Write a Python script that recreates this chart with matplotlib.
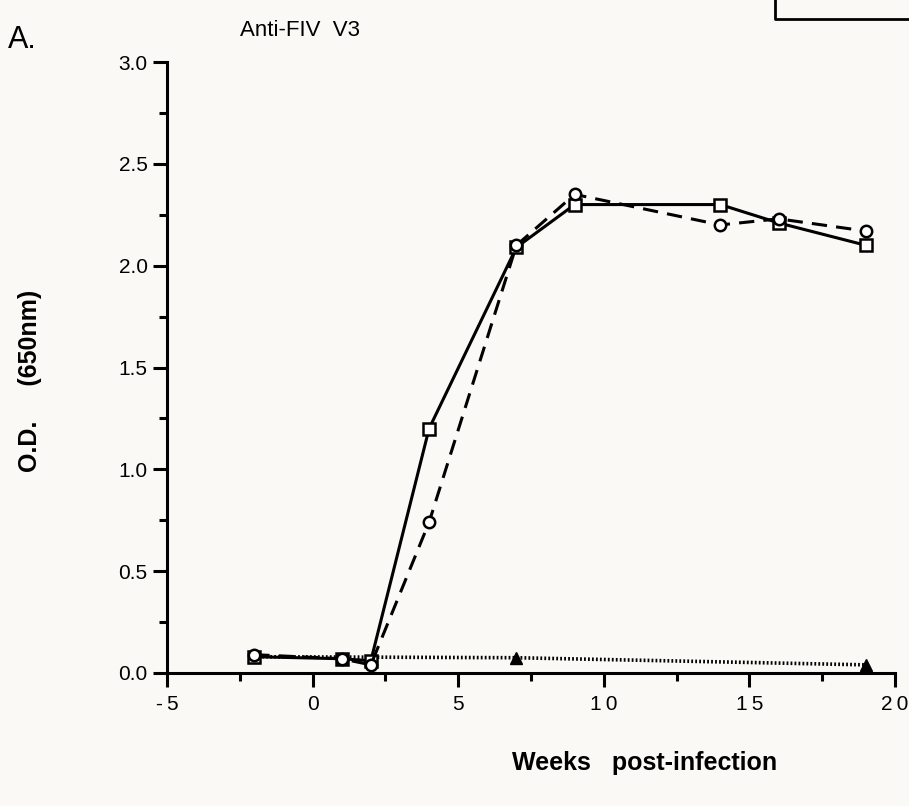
import matplotlib
matplotlib.use("Agg")
import matplotlib.pyplot as plt
from matplotlib.ticker import MultipleLocator, FixedLocator
from matplotlib.lines import Line2D

# Data
weeks_sq = [-2, 1, 2, 4, 7, 9, 14, 16, 19]
od_sq = [0.08, 0.07, 0.06, 1.20, 2.09, 2.30, 2.30, 2.21, 2.10]

weeks_ci = [-2, 1, 2, 4, 7, 9, 14, 16, 19]
od_ci = [0.09, 0.07, 0.04, 0.74, 2.10, 2.35, 2.20, 2.23, 2.17]

weeks_tr = [-2, 7, 19]
od_tr = [0.08, 0.075, 0.04]

x_ticks = [-5, 0, 5, 10, 15, 20]
x_ticklabels = ["-\u20095", "0", "5", "1\u20090", "1\u20095", "2\u20090"]
y_ticks = [0.0, 0.5, 1.0, 1.5, 2.0, 2.5, 3.0]
y_ticklabels = ["0.0", "0.5", "1.0", "1.5", "2.0", "2.5", "3.0"]

plt.rcParams['font.family'] = ['Liberation Sans', 'DejaVu Sans']

W, H = 909, 806
fig = plt.figure(figsize=(W / 100, H / 100), dpi=100)
fig.patch.set_facecolor('#fbf9f5')

left, right, top, bottom = 167, 895, 62, 673
ax = fig.add_axes([left / W, 1 - bottom / H, (right - left) / W, (bottom - top) / H])
ax.set_facecolor('#fbf9f5')

ax.plot(weeks_tr, od_tr, color='black', lw=2.6, linestyle=(0, (0.5, 0.6)),
        marker='^', markersize=8, markerfacecolor='black', markeredgecolor='black', zorder=2)
ax.plot(weeks_sq, od_sq, color='black', lw=2.2, linestyle='-',
        marker='s', markersize=8.5, markerfacecolor='white', markeredgecolor='black',
        markeredgewidth=1.8, zorder=3)
ax.plot(weeks_ci, od_ci, color='black', lw=2.2, linestyle=(0, (5, 3)),
        marker='o', markersize=8.2, markerfacecolor='white', markeredgecolor='black',
        markeredgewidth=1.8, zorder=4)

ax.set_xlim(-5, 20)
ax.set_ylim(0, 3.0)
for s in ['top', 'right']:
    ax.spines[s].set_visible(False)
for s in ['left', 'bottom']:
    ax.spines[s].set_linewidth(2.2)

ax.xaxis.set_major_locator(FixedLocator(x_ticks))
ax.set_xticklabels(x_ticklabels)
ax.xaxis.set_minor_locator(MultipleLocator(2.5))
ax.yaxis.set_major_locator(FixedLocator(y_ticks))
ax.set_yticklabels(y_ticklabels)
ax.yaxis.set_minor_locator(MultipleLocator(0.25))

ax.tick_params(axis='both', which='major', direction='out', length=10, width=2.2,
               labelsize=15, colors='black')
ax.tick_params(axis='both', which='minor', direction='out', length=6, width=2.2)
ax.tick_params(axis='y', which='major', pad=4)
ax.tick_params(axis='x', which='major', pad=6)

fig.text(30 / W, 1 - 381 / H, "O.D.     (650nm)", rotation=90, ha='center', va='center',
         fontsize=18, fontweight='bold')
fig.text(645 / W, 1 - 763 / H, "Weeks   post-infection", ha='center', va='center',
         fontsize=18, fontweight='bold')

fig.text(8 / W, 1 - 40 / H, "A.", ha='left', va='center', fontsize=22)
fig.text(240 / W, 1 - 30 / H, "Anti-FIV  V3", ha='left', va='center', fontsize=16)

# partial box at the top right
fig.add_artist(Line2D([775 / W, 775 / W, 1.0], [1.0, 1 - 19 / H, 1 - 19 / H],
                      transform=fig.transFigure, color='black', lw=2.0))

fig.savefig("out.png", dpi=100, facecolor=fig.get_facecolor())
